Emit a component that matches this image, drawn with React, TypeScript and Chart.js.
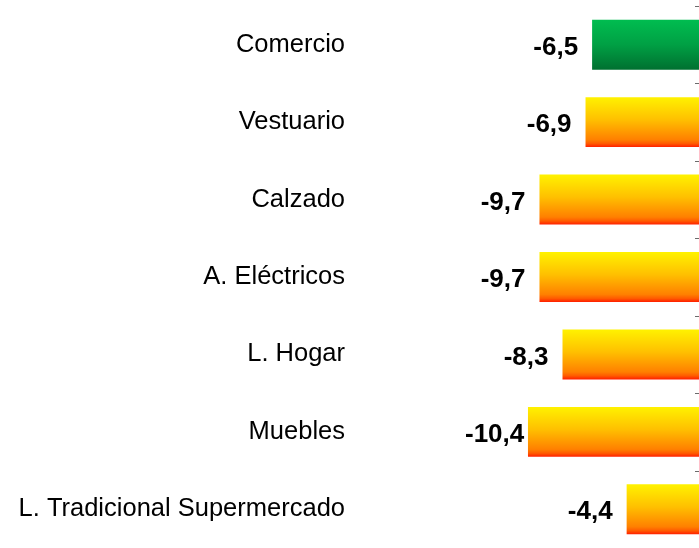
import React, { useEffect, useRef } from "react";
import { Chart, registerables } from "chart.js";

Chart.register(...registerables);

const categories = [
  "Comercio",
  "Vestuario",
  "Calzado",
  "A. Eléctricos",
  "L. Hogar",
  "Muebles",
  "L. Tradicional Supermercado",
];
const values = [-6.5, -6.9, -9.7, -9.7, -8.3, -10.4, -4.4];
const barKinds = ["green", "warm", "warm", "warm", "warm", "warm", "warm"];

const gradientStops: Record<string, [number, string][]> = {
  green: [
    [0, "#00BD50"],
    [0.5, "#00A044"],
    [1, "#007030"],
  ],
  warm: [
    [0, "#FFF200"],
    [0.45, "#FFC000"],
    [0.85, "#FF8000"],
    [0.93, "#FF5A00"],
    [1, "#FF1E00"],
  ],
};

const BAR_PCT = 0.645;
const fmt = (v: number) => v.toFixed(1).replace(".", ",");

export default function App() {
  const ref = useRef<HTMLCanvasElement | null>(null);

  useEffect(() => {
    document.body.style.margin = "0";
    const canvas = ref.current;
    if (!canvas) return;

    const barFill = (c: any) => {
      const chart = c.chart;
      const ys = chart.scales && chart.scales.y;
      const kind = barKinds[c.dataIndex] || "warm";
      if (!ys || !chart.chartArea) return gradientStops[kind][0][1];
      const yc = ys.getPixelForValue(c.dataIndex);
      const half = (ys.height / categories.length) * BAR_PCT / 2;
      const g = chart.ctx.createLinearGradient(0, yc - half, 0, yc + half);
      gradientStops[kind].forEach(([p, col]) => g.addColorStop(p, col));
      return g;
    };

    const labelPlugin = {
      id: "valueLabels",
      afterDatasetsDraw(chart: any) {
        const ctx = chart.ctx;
        const meta = chart.getDatasetMeta(0);
        ctx.save();
        ctx.font = "bold 26px 'Liberation Sans', Arial, sans-serif";
        ctx.fillStyle = "#000";
        ctx.textAlign = "right";
        ctx.textBaseline = "middle";
        const clampLeft = 465;
        meta.data.forEach((el: any, i: number) => {
          const { x, y } = el.getProps(["x", "y"], true);
          const text = fmt(values[i]);
          const w = ctx.measureText(text).width;
          let right = x - 14;
          if (right - w < clampLeft) right = clampLeft + w;
          ctx.fillText(text, right, y + 3);
        });
        ctx.restore();
      },
    };

    const tickPlugin = {
      id: "edgeTicks",
      afterDraw(chart: any) {
        const ctx = chart.ctx;
        const ys = chart.scales.y;
        const xs = chart.scales.x;
        const x0 = xs.getPixelForValue(0);
        const n = categories.length;
        ctx.save();
        ctx.strokeStyle = "#6b6b6b";
        ctx.lineWidth = 1;
        for (let i = 0; i <= n; i++) {
          const yy = Math.round(ys.getPixelForValue(i - 0.5)) + 0.5;
          ctx.beginPath();
          ctx.moveTo(x0 - 4, yy);
          ctx.lineTo(x0, yy);
          ctx.stroke();
        }
        ctx.restore();
      },
    };

    const chart = new Chart(canvas, {
      type: "bar",
      data: {
        labels: categories,
        datasets: [
          {
            data: values,
            backgroundColor: barFill,
            borderWidth: 0,
            barPercentage: BAR_PCT,
            categoryPercentage: 1,
          },
        ],
      },
      options: {
        indexAxis: "y",
        responsive: false,
        animation: false,
        devicePixelRatio: 1,
        layout: { padding: { top: 6, bottom: 0, left: 0, right: 0 } },
        plugins: {
          legend: { display: false },
          tooltip: { enabled: false },
        },
        scales: {
          x: {
            display: false,
            min: -21.1,
            max: 0,
          },
          y: {
            grid: { display: false, drawTicks: false },
            border: { display: false },
            afterFit: (s: any) => {
              s.width = 352;
              s.paddingTop = 0;
              s.paddingBottom = 0;
            },
            ticks: {
              padding: 7,
              color: "#000",
              font: { family: "'Liberation Sans', Arial, sans-serif", size: 25.5 },
            },
          },
        },
      },
      plugins: [labelPlugin, tickPlugin],
    });

    return () => chart.destroy();
  }, []);

  return (
    <div style={{ width: 699, height: 548 }}>
      <canvas ref={ref} width={699} height={548} style={{ display: "block" }} />
    </div>
  );
}
